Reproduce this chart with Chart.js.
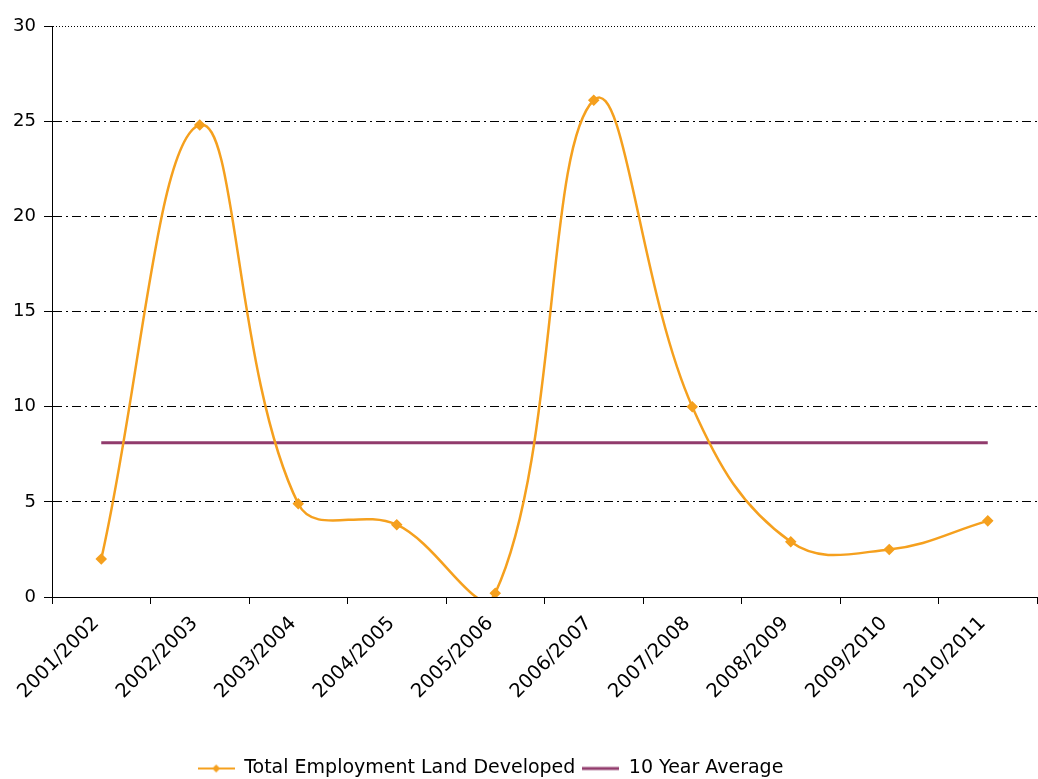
<!DOCTYPE html>
<html lang="en">
<head>
    <meta charset="UTF-8">
    <title>Total Employment Land Developed</title>
    <script src="https://cdn.jsdelivr.net/npm/chart.js"></script>
    <style>
        html, body { margin: 0; padding: 0; background: #fff; overflow: hidden; }
        #box { width: 1038px; height: 779px; }
        canvas { display: block; }
    </style>
</head>
<body>
    <div id="box"><canvas id="grafico" width="1038" height="779"></canvas></div>

    <script>
        const anos = ['2001/2002', '2002/2003', '2003/2004', '2004/2005', '2005/2006',
                      '2006/2007', '2007/2008', '2008/2009', '2009/2010', '2010/2011'];
        const terrenoDesenvolvido = [2.0, 24.8, 4.9, 3.8, 0.2, 26.1, 10.0, 2.9, 2.5, 4.0];
        const mediaDezAnos = [8.1, 8.1, 8.1, 8.1, 8.1, 8.1, 8.1, 8.1, 8.1, 8.1];
        const ticksY = [0, 5, 10, 15, 20, 25, 30];

        const laranja = '#F5A01E';
        const roxo = '#913B6C';
        const fonte = "'DejaVu Sans', Verdana, sans-serif";

        // icones da legenda: linha + losango, linha simples
        function iconeLegenda(cor, comLosango) {
            const c = document.createElement('canvas');
            c.width = 37; c.height = 12;
            const g = c.getContext('2d');
            g.strokeStyle = cor;
            g.lineWidth = comLosango ? 2 : 3;
            g.beginPath(); g.moveTo(0, 6); g.lineTo(37, 6); g.stroke();
            if (comLosango) {
                g.fillStyle = cor;
                g.beginPath();
                g.moveTo(18.5, 2); g.lineTo(22.5, 6); g.lineTo(18.5, 10); g.lineTo(14.5, 6);
                g.closePath(); g.fill();
            }
            return c;
        }
        const icones = [iconeLegenda(laranja, true), iconeLegenda(roxo, false)];

        // a legenda do original fica um pouco à esquerda do centro e mais abaixo
        const deslocaLegenda = {
            id: 'deslocaLegenda',
            afterUpdate(chart) {
                chart.legend.left -= 28;
                chart.legend.right -= 28;
                chart.legend.top += 9;
                chart.legend.bottom += 9;
            }
        };

        new Chart(document.getElementById('grafico').getContext('2d'), {
            type: 'line',
            data: {
                labels: anos,
                datasets: [{
                    label: 'Total Employment Land Developed',
                    data: terrenoDesenvolvido,
                    borderColor: laranja,
                    backgroundColor: laranja,
                    borderWidth: 2.5,
                    pointStyle: 'rectRot',
                    pointRadius: 4,
                    tension: 0.4,
                    fill: false
                }, {
                    label: '10 Year Average',
                    data: mediaDezAnos,
                    borderColor: roxo,
                    backgroundColor: roxo,
                    borderWidth: 3,
                    pointRadius: 0,
                    tension: 0,
                    fill: false
                }]
            },
            plugins: [deslocaLegenda],
            options: {
                responsive: false,
                animation: false,
                elements: { line: { capBezierPoints: false } },
                layout: { autoPadding: false, padding: { top: 26, right: 1, left: 0, bottom: 0 } },
                plugins: {
                    tooltip: { enabled: false },
                    legend: {
                        position: 'bottom',
                        labels: {
                            usePointStyle: true,
                            pointStyleWidth: 37,
                            boxHeight: 12,
                            padding: 7,
                            color: '#000',
                            font: { family: fonte, size: 19 },
                            generateLabels: (chart) => chart.data.datasets.map((ds, i) => ({
                                text: ds.label,
                                pointStyle: icones[i],
                                fillStyle: ds.borderColor,
                                strokeStyle: ds.borderColor,
                                lineWidth: 0,
                                hidden: false,
                                datasetIndex: i
                            }))
                        }
                    }
                },
                scales: {
                    x: {
                        offset: true,
                        afterFit: (escala) => { escala.height = 146; escala.paddingRight = 0; },
                        grid: {
                            offset: true,
                            drawOnChartArea: false,
                            tickLength: 7,
                            tickColor: '#000'
                        },
                        border: { color: '#000', width: 1 },
                        ticks: {
                            color: '#000',
                            font: { family: fonte, size: 19.5 },
                            maxRotation: 45,
                            minRotation: 45,
                            padding: 8,
                            labelOffset: -5
                        }
                    },
                    y: {
                        min: 0,
                        max: 30,
                        afterFit: (escala) => { escala.width = 52; },
                        afterBuildTicks: (escala) => { escala.ticks = ticksY.map(v => ({ value: v })); },
                        grid: {
                            color: (ctx) => ctx.tick && ctx.tick.value === 0 ? 'rgba(0,0,0,0)' : '#000',
                            lineWidth: 1,
                            tickLength: 8,
                            tickColor: '#000'
                        },
                        border: {
                            color: '#000',
                            width: 1,
                            dash: (ctx) => ctx.tick && ctx.tick.value === 30 ? [1, 2] : [9, 4, 2, 4]
                        },
                        ticks: {
                            color: '#000',
                            font: { family: fonte, size: 18 },
                            padding: 8
                        }
                    }
                }
            }
        });
    </script>
</body>
</html>
